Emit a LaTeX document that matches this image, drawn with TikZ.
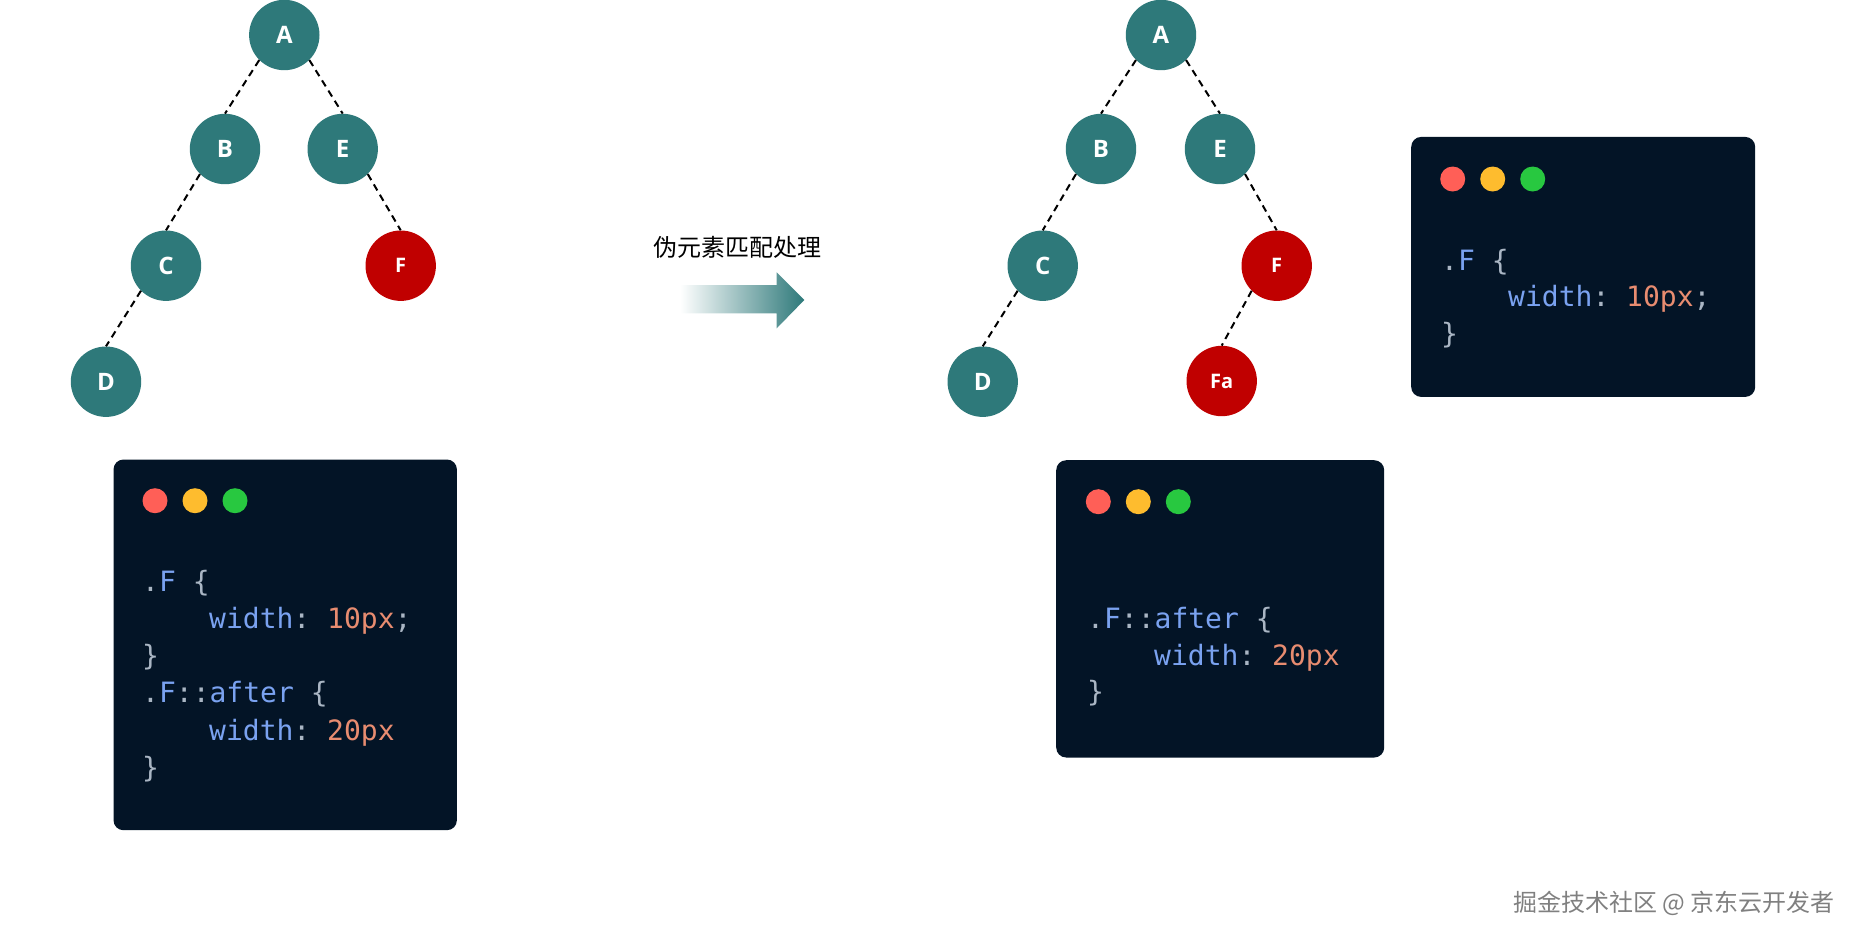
\documentclass[tikz,border=0pt]{standalone}
\usepackage{fontspec}
\newfontfamily\cjk{Noto Sans CJK SC}
\newfontfamily\codefont{DejaVu Sans Mono}
\newfontfamily\nodefont{Open Sans}
\definecolor{teal1}{RGB}{46,121,122}
\definecolor{red1}{RGB}{192,0,0}
\definecolor{codebg}{RGB}{3,20,38}
\definecolor{kw}{RGB}{122,162,240}
\definecolor{num}{RGB}{232,140,112}
\definecolor{punc}{RGB}{170,182,196}
\definecolor{dotred}{RGB}{255,95,87}
\definecolor{dotyel}{RGB}{254,188,46}
\definecolor{dotgrn}{RGB}{40,200,64}
\tikzset{
 tnode/.style={circle, fill=teal1, minimum size=70.4pt, inner sep=0pt, text=white, font=\nodefont\bfseries\fontsize{24}{24}\selectfont},
 rnode/.style={tnode, fill=red1, font=\nodefont\bfseries\fontsize{20}{20}\selectfont},
 edge/.style={draw=black, line width=2pt, dash pattern=on 7pt off 5pt},
 codebox/.style={fill=codebg, rounded corners=10pt, inner sep=0pt, anchor=north west},
 win/.style={circle, minimum size=25pt, inner sep=0pt},
 code/.style={anchor=base west, inner sep=0pt, font=\codefont\fontsize{28}{28}\selectfont},
}
\newcommand{\cP}[1]{\textcolor{punc}{#1}}
\newcommand{\cK}[1]{\textcolor{kw}{#1}}
\newcommand{\cN}[1]{\textcolor{num}{#1}}
\begin{document}
\begin{tikzpicture}[x=1pt,y=-1pt]
\useasboundingbox (0,0) rectangle (1868,943);
% left tree
\node[tnode] (lA) at (284.3,35) {A};
\node[tnode] (lB) at (225,149) {B};
\node[tnode] (lE) at (342.7,149) {E};
\node[tnode] (lC) at (166,265.7) {C};
\node[rnode] (lF) at (400.7,265.7) {F};
\node[tnode] (lD) at (106,381.7) {D};
\draw[edge] (lA.south west) -- (lB.north);
\draw[edge] (lA.south east) -- (lE.north);
\draw[edge] (lB.south west) -- (lC.north);
\draw[edge] (lE.south east) -- (lF.north);
\draw[edge] (lC.south west) -- (lD.north);
% right tree
\node[tnode] (rA) at (1161,35) {A};
\node[tnode] (rB) at (1101,149) {B};
\node[tnode] (rE) at (1220,149) {E};
\node[tnode] (rC) at (1042.7,265.7) {C};
\node[rnode] (rF) at (1276.7,265.7) {F};
\node[tnode] (rD) at (982.7,381.7) {D};
\node[rnode] (rFa) at (1221.7,381) {Fa};
\draw[edge] (rA.south west) -- (rB.north);
\draw[edge] (rA.south east) -- (rE.north);
\draw[edge] (rB.south west) -- (rC.north);
\draw[edge] (rE.south east) -- (rF.north);
\draw[edge] (rC.south west) -- (rD.north);
\draw[edge] (rF.south west) -- (rFa.north);
% arrow
\shade[left color=white, right color=teal1] (680,285) -- (776.7,285) -- (776.7,272.3) -- (804.3,300) -- (776.7,328.3) -- (776.7,313.3) -- (680,313.3) -- cycle;
\node[font=\cjk\fontsize{24}{24}\selectfont, inner sep=0pt] (lbl) at (737.5,247) {伪元素匹配处理};
% left code box
\node[codebox, minimum width=343.4pt, minimum height=370.7pt] (box1) at (113.3,459.3) {};
\node[win, fill=dotred] (b1r) at (155,500.7) {};
\node[win, fill=dotyel] (b1y) at (195,500.7) {};
\node[win, fill=dotgrn] (b1g) at (235,500.7) {};
\node[code] (b1l1) at (142,591.7) {\cP{.}\cK{F}\ \cP{\{}};
\node[code] (b1l2) at (209,628.3) {\cK{width}\cP{:}\ \cN{10px}\cP{;}};
\node[code] (b1l3) at (142,665) {\cP{\}}};
\node[code] (b1l4) at (142,702.3) {\cP{.}\cK{F}\cP{::}\cK{after}\ \cP{\{}};
\node[code] (b1l5) at (209,740) {\cK{width}\cP{:}\ \cN{20px}};
\node[code] (b1l6) at (142,777) {\cP{\}}};
% right code box 1
\node[codebox, minimum width=344pt, minimum height=260pt] (box2) at (1411,136.7) {};
\node[win, fill=dotred] (b2r) at (1452.7,179) {};
\node[win, fill=dotyel] (b2y) at (1492.7,179) {};
\node[win, fill=dotgrn] (b2g) at (1532.7,179) {};
\node[code] (b2l1) at (1441,270) {\cP{.}\cK{F}\ \cP{\{}};
\node[code] (b2l2) at (1508,306.7) {\cK{width}\cP{:}\ \cN{10px}\cP{;}};
\node[code] (b2l3) at (1441,343) {\cP{\}}};
% right code box 2
\node[codebox, minimum width=328pt, minimum height=297.3pt] (box3) at (1056,460) {};
\node[win, fill=dotred] (b3r) at (1098.3,501.7) {};
\node[win, fill=dotyel] (b3y) at (1138.3,501.7) {};
\node[win, fill=dotgrn] (b3g) at (1178.3,501.7) {};
\node[code] (b3l1) at (1087,628.3) {\cP{.}\cK{F}\cP{::}\cK{after}\ \cP{\{}};
\node[code] (b3l2) at (1154,665) {\cK{width}\cP{:}\ \cN{20px}};
\node[code] (b3l3) at (1087,701.7) {\cP{\}}};
% watermark
\node[font=\cjk\fontsize{24}{24}\selectfont, text=black!50, inner sep=0pt] (wm) at (1674,903) {掘金技术社区 @ 京东云开发者};
\end{tikzpicture}
\end{document}
